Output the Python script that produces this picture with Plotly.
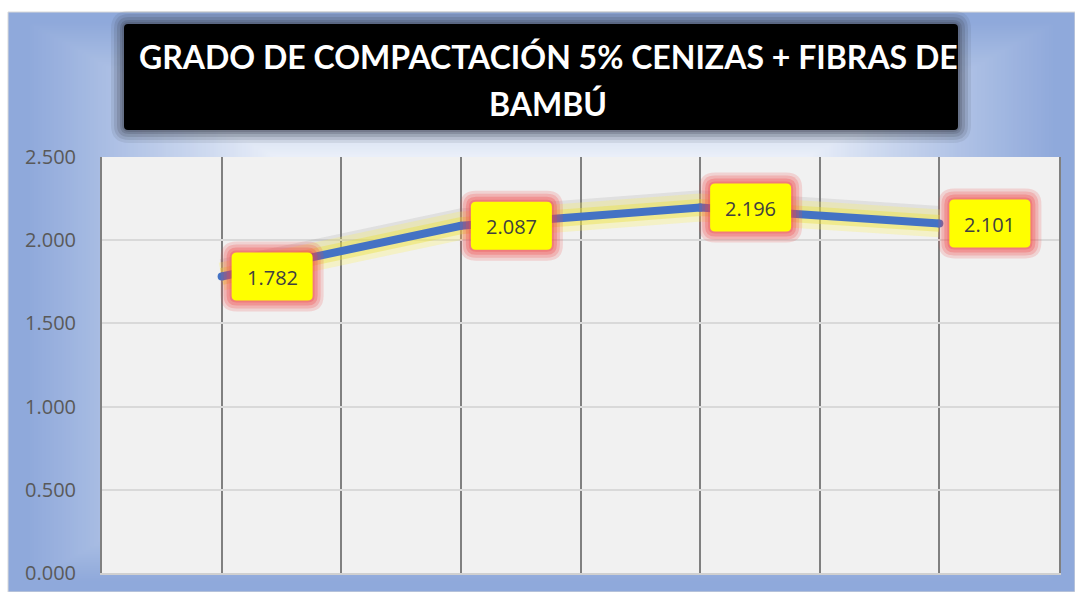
import base64
import struct
import zlib

import numpy as np
import plotly.graph_objects as go

# ---------------- data ----------------
x_values = [1, 3, 5, 7]
values = [1.782, 2.087, 2.196, 2.101]
label_texts = ["1.782", "2.087", "2.196", "2.101"]
y_tick_vals = [0.0, 0.5, 1.0, 1.5, 2.0, 2.5]
y_tick_text = ["0.000", "0.500", "1.000", "1.500", "2.000", "2.500"]
x_grid_vals = [0, 1, 2, 3, 4, 5, 6, 7, 8]
title_line1 = "GRADO DE COMPACTACIÓN 5% CENIZAS + FIBRAS DE"
title_line2 = "BAMBÚ"

# ---------------- geometry ----------------
W, H = 1075, 592
ML, MR, MT, MB = 102, 16, 157, 19
PW, PH = W - ML - MR, H - MT - MB


def px2x(px):
    return (px - ML) / PW


def py2y(py):
    return (H - MB - py) / PH


# ---------------- gradient background (PNG data URI) ----------------
def make_png(w, h, arr):
    raw = b"".join(b"\x00" + arr[r].tobytes() for r in range(h))

    def chunk(t, d):
        return struct.pack(">I", len(d)) + t + d + struct.pack(">I", zlib.crc32(t + d) & 0xFFFFFFFF)

    return (b"\x89PNG\r\n\x1a\n" + chunk(b"IHDR", struct.pack(">IIBBBBB", w, h, 8, 2, 0, 0, 0))
            + chunk(b"IDAT", zlib.compress(raw, 9)) + chunk(b"IEND", b""))


gw, gh = 267, 145
xs = (np.arange(gw) + 0.5) / gw * 2 - 1
ys = (np.arange(gh) + 0.5) / gh * 2 - 1
XX, YY = np.meshgrid(xs, ys)
t = np.maximum(np.abs(XX), np.abs(YY))
f = np.clip((t - 0.5) / 0.47, 0, 1) ** 0.9
light = np.array([236, 241, 250], dtype=float)
dark = np.array([143, 169, 219], dtype=float)
img = (light[None, None, :] * (1 - f[..., None]) + dark[None, None, :] * f[..., None]).astype(np.uint8)
bg_uri = "data:image/png;base64," + base64.b64encode(make_png(gw, gh, img)).decode()


def rr_path(x0, y0, x1, y1, r):
    def P(px, py):
        return f"{px2x(px):.6f},{py2y(py):.6f}"
    return (f"M{P(x0 + r, y0)} L{P(x1 - r, y0)} Q{P(x1, y0)} {P(x1, y0 + r)} "
            f"L{P(x1, y1 - r)} Q{P(x1, y1)} {P(x1 - r, y1)} L{P(x0 + r, y1)} "
            f"Q{P(x0, y1)} {P(x0, y1 - r)} L{P(x0, y0 + r)} Q{P(x0, y0)} {P(x0 + r, y0)} Z")


def rr_pix(x0, y0, x1, y1, r):
    return (f"M{x0 + r},{y0} L{x1 - r},{y0} Q{x1},{y0} {x1},{y0 + r} L{x1},{y1 - r} "
            f"Q{x1},{y1} {x1 - r},{y1} L{x0 + r},{y1} Q{x0},{y1} {x0},{y1 - r} "
            f"L{x0},{y0 + r} Q{x0},{y0} {x0 + r},{y0} Z")


fig = go.Figure()

# soft gray shadow and yellow glow under the line
fig.add_trace(go.Scatter(x=x_values, y=[v + 0.05 for v in values], mode="lines",
                         line=dict(color="rgba(120,120,120,0.14)", width=18),
                         hoverinfo="skip", showlegend=False))
fig.add_trace(go.Scatter(x=x_values, y=values, mode="lines",
                         line=dict(color="rgba(250,240,90,0.28)", width=28),
                         hoverinfo="skip", showlegend=False))
fig.add_trace(go.Scatter(x=x_values, y=values, mode="lines",
                         line=dict(color="rgba(235,225,60,0.40)", width=17),
                         hoverinfo="skip", showlegend=False))
fig.add_trace(go.Scatter(x=x_values, y=values, mode="lines+markers",
                         line=dict(color="#4472c4", width=8),
                         marker=dict(color="#4472c4", size=8),
                         hoverinfo="skip", showlegend=False))

shapes = []
# plot area background (above gradient image)
shapes.append(dict(type="rect", xref="paper", yref="paper", x0=0, x1=1, y0=0, y1=1,
                   fillcolor="#f1f1f1", line=dict(width=0), layer="below"))
# chart frame border
shapes.append(dict(type="rect", xref="paper", yref="paper", x0=px2x(8), x1=px2x(1075),
                   y0=py2y(12), y1=py2y(592), line=dict(color="#d9d9d9", width=1), layer="below"))

# title shadow + box
tb = (124, 24, 958, 130)
for e, a in [(13, 0.10), (10, 0.14), (7, 0.18), (4, 0.22), (2, 0.25)]:
    shapes.append(dict(type="path", xref="paper", yref="paper",
                       path=rr_path(tb[0] - e, tb[1] - e, tb[2] + e, tb[3] + e, 5 + e),
                       fillcolor=f"rgba(60,65,80,{a})", line=dict(width=0), layer="above"))
shapes.append(dict(type="path", xref="paper", yref="paper", path=rr_path(*tb, 4),
                   fillcolor="#000000", line=dict(width=0), layer="above"))

# data-label boxes with red glow
for xv, yv in zip(x_values, values):
    for e, a in [(11, 0.18), (8, 0.22), (5, 0.28), (2, 0.30)]:
        shapes.append(dict(type="path", xref="x", yref="y", xsizemode="pixel", ysizemode="pixel",
                           xanchor=xv, yanchor=yv,
                           path=rr_pix(10 - e, -24 - e, 91 + e, 24 + e, 5 + e),
                           fillcolor=f"rgba(240,70,70,{a})", line=dict(width=0), layer="above"))
    shapes.append(dict(type="path", xref="x", yref="y", xsizemode="pixel", ysizemode="pixel",
                       xanchor=xv, yanchor=yv, path=rr_pix(10, -24, 91, 24, 5),
                       fillcolor="#ffff00", line=dict(width=0), layer="above"))

annotations = []
for xv, yv, txt in zip(x_values, values, label_texts):
    annotations.append(dict(x=xv, y=yv, xref="x", yref="y", text=txt, showarrow=False,
                            xanchor="center", yanchor="middle", xshift=50.5, yshift=-1,
                            font=dict(family="Open Sans", size=20, color="#404040")))

annotations.append(dict(x=px2x(548), y=py2y(57), xref="paper", yref="paper", text=f"<b>{title_line1}</b>",
                        showarrow=False, xanchor="center", yanchor="middle",
                        font=dict(family="Lato", size=32, color="#ffffff")))
annotations.append(dict(x=px2x(548), y=py2y(103), xref="paper", yref="paper", text=f"<b>{title_line2}</b>",
                        showarrow=False, xanchor="center", yanchor="middle",
                        font=dict(family="Lato", size=32, color="#ffffff")))

fig.update_layout(
    width=W, height=H,
    margin=dict(l=ML, r=MR, t=MT, b=MB, pad=0, autoexpand=False),
    paper_bgcolor="#ffffff",
    plot_bgcolor="rgba(0,0,0,0)",
    showlegend=False,
    shapes=shapes,
    annotations=annotations,
    images=[dict(source=bg_uri, xref="paper", yref="paper", x=px2x(8), y=py2y(12),
                 sizex=(1075 - 8) / PW, sizey=(592 - 12) / PH, xanchor="left", yanchor="top",
                 sizing="stretch", layer="below")],
    xaxis=dict(range=[0, 8], tickvals=x_grid_vals, showticklabels=False, showgrid=True,
               gridcolor="#808080", gridwidth=2, zeroline=False, showline=True,
               linecolor="#d0d0d0", linewidth=2, fixedrange=True, automargin=False),
    yaxis=dict(range=[0, 2.5], tickvals=y_tick_vals, ticktext=y_tick_text, showgrid=True,
               gridcolor="#d9d9d9", gridwidth=1.5, zeroline=False, showline=True, mirror=True,
               linecolor="#808080", linewidth=2, ticks="", ticklabelstandoff=20, automargin=False,
               tickfont=dict(family="Open Sans", size=20, color="#595959"), fixedrange=True),
)

fig.write_html("out.html", config={"displayModeBar": False},
               post_script="document.body.style.margin='0px';document.body.style.overflow='hidden';")
